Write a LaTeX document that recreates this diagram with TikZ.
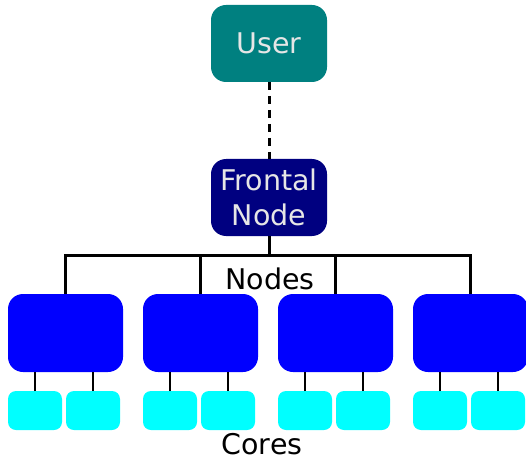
\documentclass[tikz,border=0pt]{standalone}
\usepackage{fontspec}
\setmainfont{DejaVu Sans}
\definecolor{userteal}{HTML}{008080}
\definecolor{frontnavy}{HTML}{000080}
\definecolor{nodeblue}{HTML}{0000FF}
\definecolor{corecyan}{HTML}{00FFFF}
\definecolor{boxtext}{HTML}{E6E6E6}
\begin{document}
\begin{tikzpicture}[x=1pt,y=-1pt,
    bigbox/.style={rounded corners=15pt,inner sep=0pt,outer sep=0pt,minimum width=116pt,minimum height=77pt,text=boxtext,align=center,font=\fontsize{28.5}{35}\selectfont},
    nodebox/.style={fill=nodeblue,rounded corners=15pt,inner sep=0pt,outer sep=0pt,minimum width=115pt,minimum height=78pt},
    corebox/.style={fill=corecyan,rounded corners=8pt,inner sep=0pt,outer sep=0pt,minimum width=54pt,minimum height=39pt},
    link/.style={line width=3pt},
    label/.style={anchor=base,inner sep=0pt,font=\fontsize{28.5}{35}\selectfont}]
        \useasboundingbox (0,0) rectangle (526,462);
        % Draw user and frontal node
        \node[bigbox,fill=userteal] (user) at (269,43.5) {User};
        \node[bigbox,fill=frontnavy] (frontal) at (269,197.5) {Frontal\\Node};
        \draw[link,dash pattern=on 8pt off 6pt] (user) -- (frontal);
        % Draw the nodes and their cores
        \foreach \i/\x in {1/65.5,2/200.5,3/335.5,4/470.5} {
            \node[nodebox] (node\i) at (\x,333) {};
            \node[corebox] (core\i-1) at (\x-30.5,410.5) {};
            \node[corebox] (core\i-2) at (\x+27.5,410.5) {};
            \draw[line width=2.2pt] (core\i-1.north) -- (core\i-1.north |- node\i.south);
            \draw[line width=2.2pt] (core\i-2.north) -- (core\i-2.north |- node\i.south);
        }
        % Bus from frontal node to the nodes
        \coordinate (bus) at (269,255);
        \draw[link] (frontal) -- (bus);
        \draw[link,line cap=rect] (node1.north |- bus) -- (node4.north |- bus);
        \foreach \i in {1,...,4} \draw[link] (node\i.north |- bus) -- (node\i.north);
        % Labels
        \node[label] (nodeslabel) at (270,289) {Nodes};
        \node[label] (coreslabel) at (262,454) {Cores};
    \end{tikzpicture}
\end{document}
